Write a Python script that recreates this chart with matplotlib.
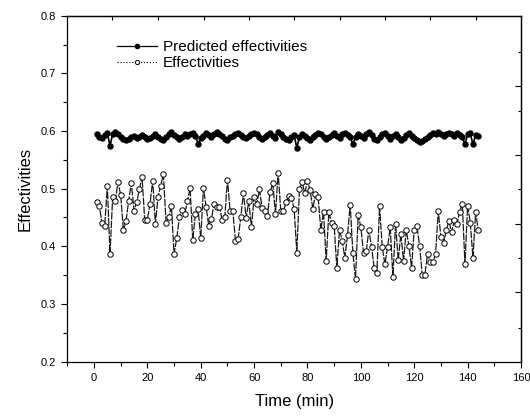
import matplotlib
matplotlib.use("Agg")
import matplotlib.pyplot as plt
from matplotlib.lines import Line2D
from matplotlib.ticker import MultipleLocator

# ---------- DATA ----------

time_min = list(range(1, 145))

predicted = [
    0.594, 0.590, 0.588, 0.593, 0.597, 0.574, 0.595, 0.598, 0.594,
    0.590, 0.586, 0.584, 0.587, 0.589, 0.591, 0.588, 0.590, 0.593, 0.589,
    0.586, 0.588, 0.592, 0.595, 0.590, 0.587, 0.585, 0.589, 0.594, 0.598,
    0.593, 0.589, 0.587, 0.590, 0.594, 0.591, 0.595, 0.597, 0.592, 0.578,
    0.588, 0.592, 0.596, 0.593, 0.590, 0.594, 0.598, 0.595, 0.591, 0.587,
    0.584, 0.589, 0.592, 0.594, 0.596, 0.593, 0.590, 0.588, 0.592, 0.595,
    0.597, 0.594, 0.589, 0.586, 0.590, 0.593, 0.596, 0.592, 0.588, 0.599,
    0.594, 0.590, 0.587, 0.585, 0.589, 0.593, 0.571, 0.590, 0.594, 0.591,
    0.588, 0.585, 0.589, 0.593, 0.597, 0.594, 0.590, 0.586, 0.589, 0.593,
    0.596, 0.592, 0.588, 0.594, 0.597, 0.593, 0.589, 0.577, 0.590, 0.595,
    0.592, 0.588, 0.594, 0.599, 0.593, 0.587, 0.584, 0.589, 0.594, 0.596,
    0.591, 0.587, 0.592, 0.595, 0.589, 0.585, 0.588, 0.593, 0.596, 0.592,
    0.588, 0.584, 0.581, 0.583, 0.586, 0.590, 0.593, 0.596, 0.594, 0.598,
    0.595, 0.591, 0.594, 0.597, 0.595, 0.592, 0.596, 0.593, 0.589, 0.577,
    0.594, 0.596, 0.577, 0.593, 0.591,
]

measured = [
    0.476, 0.470, 0.441, 0.436, 0.504, 0.387, 0.486, 0.479, 0.512, 0.489,
    0.428, 0.444, 0.479, 0.510, 0.462, 0.476, 0.499, 0.521, 0.446, 0.446,
    0.474, 0.514, 0.439, 0.486, 0.505, 0.526, 0.441, 0.450, 0.470, 0.387,
    0.414, 0.450, 0.463, 0.456, 0.478, 0.501, 0.411, 0.456, 0.465, 0.414,
    0.501, 0.469, 0.436, 0.447, 0.474, 0.469, 0.469, 0.446, 0.450, 0.515,
    0.462, 0.462, 0.410, 0.413, 0.450, 0.493, 0.449, 0.478, 0.434, 0.485,
    0.473, 0.499, 0.466, 0.462, 0.453, 0.495, 0.509, 0.456, 0.528, 0.461,
    0.462, 0.476, 0.488, 0.484, 0.465, 0.389, 0.499,
    0.511, 0.492, 0.514, 0.497, 0.465, 0.491, 0.485, 0.428, 0.460, 0.375,
    0.459, 0.441, 0.436, 0.362, 0.428, 0.410, 0.380, 0.419, 0.472, 0.389,
    0.343, 0.455, 0.433, 0.388, 0.391, 0.428, 0.399, 0.362, 0.354, 0.470,
    0.399, 0.369, 0.398, 0.433, 0.347, 0.439, 0.376, 0.422, 0.374, 0.428,
    0.401, 0.363, 0.428, 0.435, 0.401, 0.350, 0.351, 0.387, 0.372, 0.372,
    0.387, 0.461, 0.416, 0.405, 0.428, 0.444, 0.424, 0.445, 0.438, 0.460,
    0.474, 0.370, 0.470, 0.441, 0.380, 0.459, 0.428,
]

legend_labels = ["Predicted effectivities", "Effectivities"]

# ---------- STYLE ----------

plt.rcParams.update({
    "font.family": "sans-serif",
    "font.sans-serif": ["Liberation Sans", "DejaVu Sans"],
    "axes.linewidth": 0.9,
})

fig = plt.figure(figsize=(5.30, 4.16), dpi=100)
ax = fig.add_axes([0.127, 0.131, 0.856, 0.831])

ax.plot(time_min, measured, color="#1a1a1a", lw=0.9, ls=(0, (6, 1)),
        marker="o", ms=3.9, mfc="white", mec="black", mew=0.7, zorder=2)
ax.plot(time_min, predicted, color="black", lw=1.2, ls="-",
        marker="o", ms=3.6, mfc="black", mec="black", zorder=3)

ax.set_xlim(-10, 160)
ax.set_ylim(0.2, 0.8)
ax.xaxis.set_major_locator(MultipleLocator(20))
ax.xaxis.set_minor_locator(MultipleLocator(10))
ax.yaxis.set_major_locator(MultipleLocator(0.1))
ax.yaxis.set_minor_locator(MultipleLocator(0.05))
ax.tick_params(which="both", direction="out", labelsize=8, width=0.8,
               top=False, right=False)
ax.tick_params(which="major", length=4.5)
ax.tick_params(which="minor", length=3)
ax.set_xticks(range(0, 161, 20))
ax.set_xticklabels([str(v) for v in range(0, 161, 20)])

ax.set_xlabel("Time (min)", fontsize=12, labelpad=8)
ax.set_ylabel("Effectivities", fontsize=12, labelpad=6)

# top / right frame ticks (offset scale in the original)
top = ax.secondary_xaxis("top")
top.set_xticks([6.7, 24, 41.2, 58, 74.9, 92.1, 109, 125.8, 143])
top.set_xticklabels([])
top.tick_params(direction="in", length=3, width=0.8)

right = ax.secondary_yaxis("right")
right.set_yticks([0.320, 0.439, 0.559, 0.678])
right.set_yticks([0.259, 0.380, 0.500, 0.635, 0.737], minor=True)
right.set_yticklabels([])
right.tick_params(which="major", direction="in", length=4.5, width=0.8)
right.tick_params(which="minor", direction="in", length=2.5, width=0.8)

handles = [
    Line2D([], [], color="black", lw=0.9, marker="o", ms=3.0, mfc="black"),
    Line2D([], [], color="black", lw=0.8, ls=":", marker="o", ms=3.0,
           mfc="white", mec="black", mew=0.7),
]
ax.legend(handles, legend_labels, loc="upper left", bbox_to_anchor=(0.11, 0.93),
          frameon=False, fontsize=11, handlelength=2.6, handletextpad=0.4,
          labelspacing=0.15, borderpad=0, borderaxespad=0)

fig.savefig("out.png", dpi=100)
